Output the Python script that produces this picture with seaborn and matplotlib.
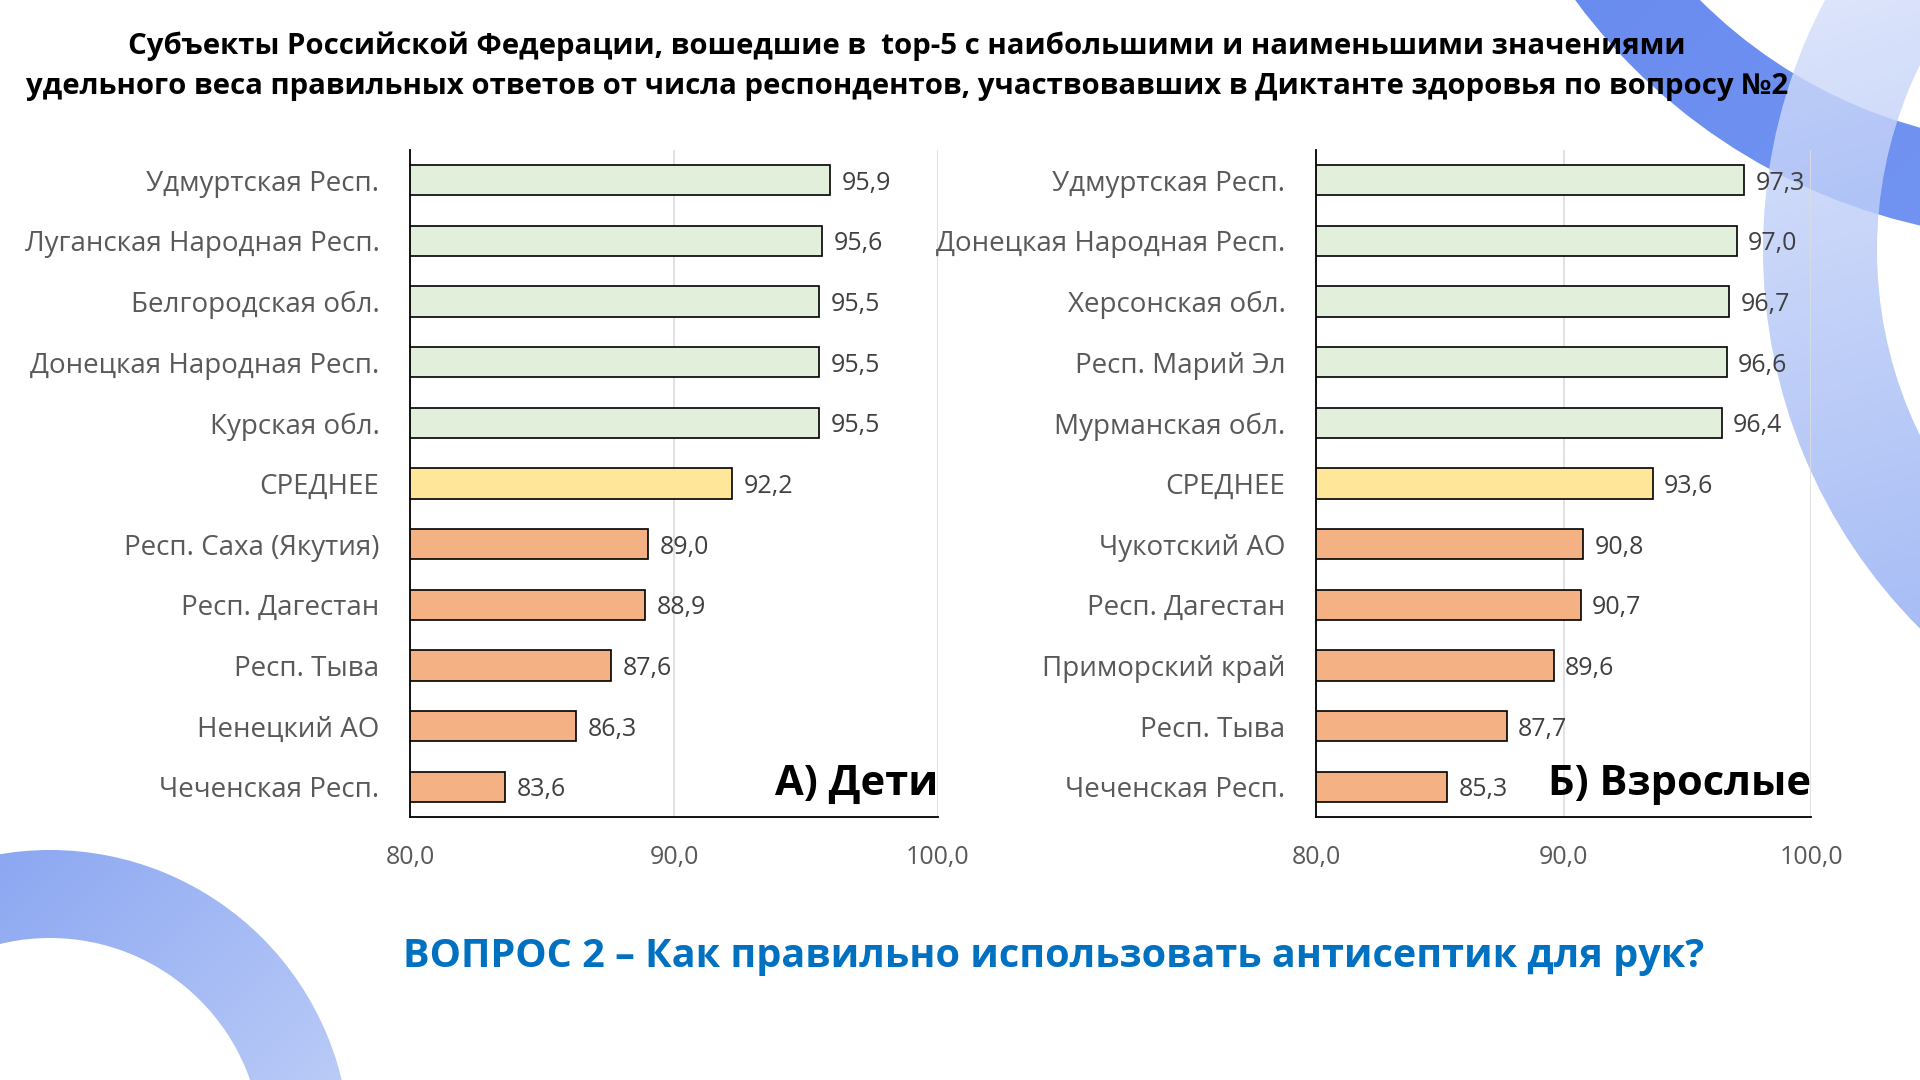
import matplotlib
matplotlib.use("Agg")
import matplotlib.pyplot as plt
import numpy as np
import seaborn as sns
from matplotlib.colors import to_rgb
from matplotlib.patches import Wedge

sns.set_theme(style="white")
plt.rcParams["font.family"] = ["Open Sans", "DejaVu Sans"]

# ---- data -------------------------------------------------------------
kids_regions = [
    "Удмуртская Респ.", "Луганская Народная Респ.", "Белгородская обл.",
    "Донецкая Народная Респ.", "Курская обл.", "СРЕДНЕЕ",
    "Респ. Саха (Якутия)", "Респ. Дагестан", "Респ. Тыва",
    "Ненецкий АО", "Чеченская Респ.",
]
kids_values = [95.9, 95.6, 95.5, 95.5, 95.5, 92.2, 89.0, 88.9, 87.6, 86.3, 83.6]

adult_regions = [
    "Удмуртская Респ.", "Донецкая Народная Респ.", "Херсонская обл.",
    "Респ. Марий Эл", "Мурманская обл.", "СРЕДНЕЕ",
    "Чукотский АО", "Респ. Дагестан", "Приморский край",
    "Респ. Тыва", "Чеченская Респ.",
]
adult_values = [97.3, 97.0, 96.7, 96.6, 96.4, 93.6, 90.8, 90.7, 89.6, 87.7, 85.3]

groups = ["top"] * 5 + ["mean"] + ["bottom"] * 5
x_ticks = [80, 90, 100]

title = ("Субъекты Российской Федерации, вошедшие в  top-5 с наибольшими и наименьшими значениями\n"
         "удельного веса правильных ответов от числа респондентов, участвовавших в Диктанте здоровья по вопросу №2")
question = "ВОПРОС 2 – Как правильно использовать антисептик для рук?"

group_colors = {"top": "#E2EFDA", "mean": "#FFE699", "bottom": "#F4B183"}
GREY = "#595959"


def comma(v):
    return f"{v:.1f}".replace(".", ",")


def ring(ax, cx, cy, r_out, r_in, c0, c1, direction, alpha=1.0):
    # gradient-filled annulus, clipped from a square image
    n = 300
    yy, xx = np.mgrid[0:1:n * 1j, 0:1:n * 1j]
    dx, dy = direction
    t = xx * dx + yy * dy
    t = (t - t.min()) / (t.max() - t.min())
    a, b = np.array(to_rgb(c0)), np.array(to_rgb(c1))
    rgb = a[None, None, :] * (1 - t[..., None]) + b[None, None, :] * t[..., None]
    rgba = np.dstack([rgb, np.full(t.shape, alpha)])
    im = ax.imshow(rgba, extent=(cx - r_out, cx + r_out, cy + r_out, cy - r_out),
                   origin="upper", aspect="auto", interpolation="bilinear", zorder=0)
    w = Wedge((cx, cy), r_out, 0, 360, width=r_out - r_in, facecolor="none",
              edgecolor="none", transform=ax.transData)
    ax.add_patch(w)
    im.set_clip_path(w)


fig = plt.figure(figsize=(19.2, 10.8), dpi=100)

# background decoration in pixel coordinates
bg = fig.add_axes([0, 0, 1, 1], zorder=0)
bg.set_xlim(0, 1920)
bg.set_ylim(1080, 0)
bg.axis("off")
ring(bg, 2050, -350, 590, 495, "#5A7FEE", "#7C9CF2", (1, 1), 1.0)
ring(bg, 2298, 250, 535, 421, "#F2F5FE", "#6A8FEF", (0.3, 1), 0.82)
ring(bg, 50, 1150, 300, 212, "#7898F0", "#D8E2FA", (1, 1), 1.0)
bg.set_xlim(0, 1920)
bg.set_ylim(1080, 0)


def panel(rect, regions, values, label):
    ax = fig.add_axes(rect, zorder=2)
    ax.patch.set_alpha(0)
    pal = {r: group_colors[g] for r, g in zip(regions, groups)}
    sns.barplot(x=values, y=regions, hue=regions, palette=pal, legend=False,
                orient="h", width=0.5, saturation=1, edgecolor="black",
                linewidth=1.2, ax=ax)
    ax.set_xlim(80, 100)
    ax.set_ylim(10.5, -0.5)
    ax.set_xticks(x_ticks)
    ax.set_xticklabels([comma(v) for v in x_ticks], fontsize=18, color=GREY)
    ax.tick_params(axis="x", length=0, pad=20)
    ax.tick_params(axis="y", length=0, pad=22, labelsize=20, labelcolor=GREY)
    ax.set_xlabel("")
    ax.set_ylabel("")
    ax.grid(axis="x", color="#DDDDDD", linewidth=1.2)
    ax.grid(axis="y", visible=False)
    ax.set_axisbelow(True)
    for s in ["top", "right"]:
        ax.spines[s].set_visible(False)
    for s in ["left", "bottom"]:
        ax.spines[s].set_color("black")
        ax.spines[s].set_linewidth(1.3)
    for i, v in enumerate(values):
        ax.text(v + 0.45, i, comma(v), va="center_baseline", ha="left",
                fontsize=18, color="#404040")
    ax.text(1.0, 0.018, label, transform=ax.transAxes, ha="right", va="bottom",
            fontsize=30, fontweight="bold", color="black")
    return ax


panel([410 / 1920, 263 / 1080, 528 / 1920, 667 / 1080], kids_regions, kids_values, "А) Дети")
panel([1316 / 1920, 263 / 1080, 495 / 1920, 667 / 1080], adult_regions, adult_values, "Б) Взрослые")

fig.text(907 / 1920, 1 - 66 / 1080, title, ha="center", va="center", fontsize=21.2,
         fontweight="bold", color="black", linespacing=1.5)
fig.text(1054 / 1920, 1 - 956 / 1080, question, ha="center", va="center", fontsize=28.5,
         fontweight="bold", color="#0070C0")

fig.savefig("out.png", dpi=100)
